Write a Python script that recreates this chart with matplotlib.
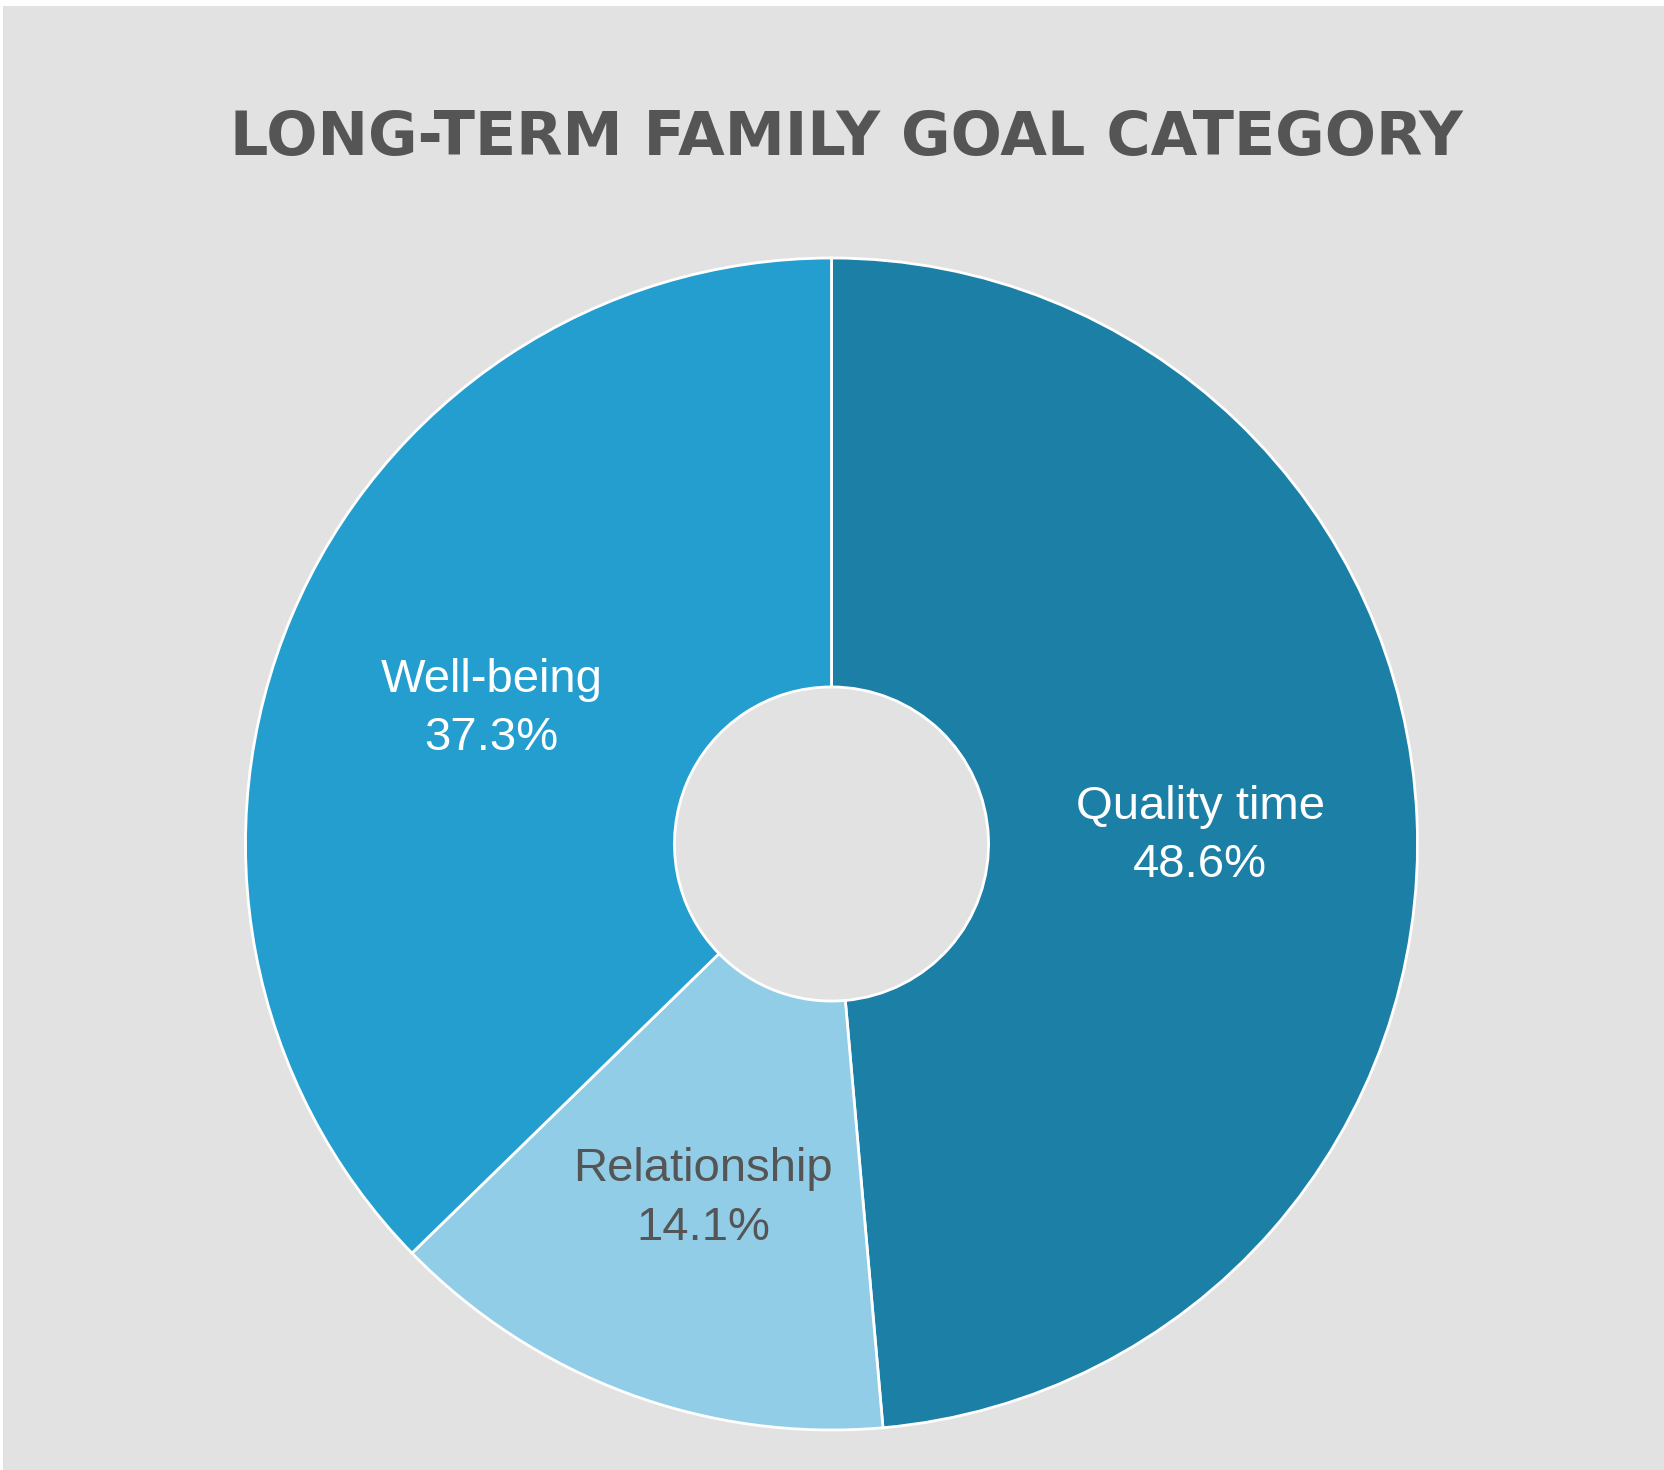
import matplotlib
matplotlib.use("Agg")
import matplotlib.pyplot as plt
import numpy as np

categories = ["Quality time", "Relationship", "Well-being"]
values = [48.6, 14.1, 37.3]
colors = ["#1b7fa6", "#92cde8", "#249ecf"]
label_colors = ["white", "#555555", "white"]
title = "LONG-TERM FAMILY GOAL CATEGORY"

W, H = 1665, 1470
fig = plt.figure(figsize=(W / 100, H / 100), dpi=100)
fig.patch.set_facecolor("white")

bg = fig.add_axes([3 / W, 0, 1 - 3 / W, 1 - 6 / H], zorder=-5)
bg.set_facecolor("#e2e2e2")
bg.set_xticks([])
bg.set_yticks([])
for s in bg.spines.values():
    s.set_visible(False)

cx, cy, R = 831.5, 844, 586
ax = fig.add_axes([(cx - R) / W, (H - cy - R) / H, 2 * R / W, 2 * R / H], zorder=1)
ax.set_facecolor("none")

wedges, texts = ax.pie(values, colors=colors, startangle=90, counterclock=False,
                       radius=1.0, labels=None,
                       wedgeprops=dict(width=1 - 0.268, edgecolor="white", linewidth=2))
ax.set_xlim(-1, 1)
ax.set_ylim(-1, 1)
ax.set_aspect("equal")
ax.axis("off")

start = 90.0
total = sum(values)
for cat, v, lc in zip(categories, values, label_colors):
    mid = start - 360 * v / total / 2
    start -= 360 * v / total
    r = 0.63
    x, y = r * np.cos(np.radians(mid)), r * np.sin(np.radians(mid)) - 0.014
    ax.text(x, y, f"{cat}\n{v:.1f}%", ha="center", va="center", color=lc,
            fontsize=34, family="Liberation Sans", linespacing=1.42)

fig.text(0.5 + 14 / W, 1 - 138 / H, title, ha="center", va="center", fontsize=43.5,
         fontweight="bold", color="#555555", family="DejaVu Sans", zorder=5)

fig.savefig("out.png", dpi=100, facecolor=fig.get_facecolor())
